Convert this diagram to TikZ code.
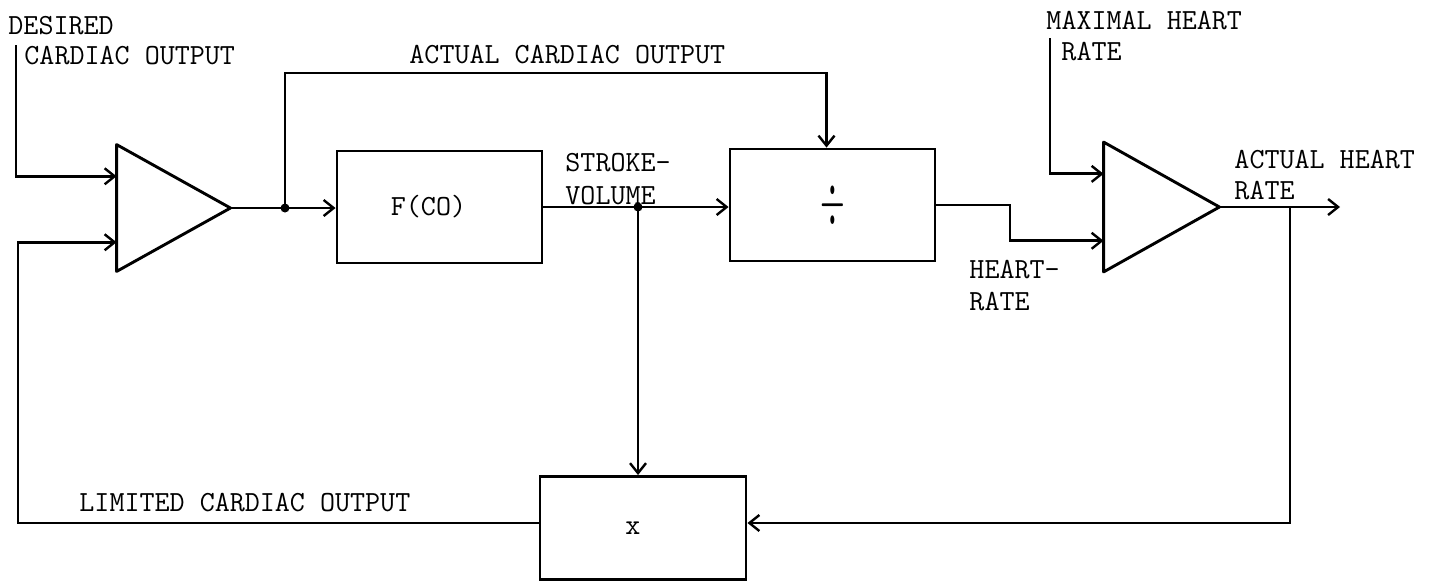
\documentclass[tikz,border=0pt]{standalone}
\usetikzlibrary{arrows.meta,calc}
\begin{document}
\begin{tikzpicture}[x=0.5pt,y=-0.5pt,
  line width=1.45pt,
  arr/.style={-{Straight Barb[length=5pt,width=8pt,line width=1.2pt]}},
  txtfont/.style={font=\fontsize{14.6}{16}\selectfont\ttfamily},
  blockbox/.style={draw,rectangle,minimum width=102.5pt,minimum height=56pt,inner sep=0pt,txtfont},
  ampbox/.style={rectangle,inner sep=0pt},
  lbl/.style={anchor=west,inner sep=0pt,txtfont},
  dot/.style={circle,fill,inner sep=0pt,minimum size=4.5pt}]
\useasboundingbox (0,0) rectangle (1433,585);

% amplifiers (bounding boxes, triangle drawn from anchors)
\node[ampbox,minimum width=55.5pt,minimum height=62pt] (amp1) at (173.5,208) {};
\draw[line join=round] (amp1.north west) -- (amp1.east) -- (amp1.south west) -- cycle;
\node[ampbox,minimum width=56.5pt,minimum height=63.5pt] (amp2) at (1161.5,207) {};
\draw[line join=round] (amp2.north west) -- (amp2.east) -- (amp2.south west) -- cycle;

% blocks
\node[blockbox] (fco) at (439.5,207) {F(CO)\hspace*{11pt}};
\node[blockbox] (div) at (832.5,205) {\raisebox{-3pt}{\scalebox{1.1}[2.4]{$\div$}}};
\node[blockbox,minimum width=103pt,minimum height=51.5pt] (mul) at (643,528) {\raisebox{-4pt}{x}\hspace*{10pt}};

% named points
\coordinate (din) at (16,45);
\coordinate (a1in1) at ($(amp1.north west)!0.25!(amp1.south west)$);
\coordinate (a1in2) at ($(amp1.north west)!0.77!(amp1.south west)$);
\coordinate (a2in1) at ($(amp2.north west)!0.245!(amp2.south west)$);
\coordinate (a2in2) at ($(amp2.north west)!0.76!(amp2.south west)$);
\coordinate (mhr) at (1050,38);
\coordinate (hrout) at (1340,207);
\node[dot] (j1) at (285,208) {};
\node[dot] (j2) at (638,207) {};
\coordinate (j3) at (1290,207);
\coordinate (top1) at (285,73);
\coordinate (divtop) at ($(div.north)+(-6,0)$);
\coordinate (mulin) at ($(mul.east)+(0,-5)$);
\coordinate (mulout) at ($(mul.west)+(0,-5)$);
\coordinate (step1) at (1010,205);
\coordinate (fb) at (18,523);

% connectors
\draw[arr] (din) |- (a1in1);
\draw[arr] (amp1.east) -- (fco.west |- amp1.east);
\draw[arr] (j1.center) -- (top1) -| (divtop);
\draw[arr] (fco.east) -- (div.west |- fco.east);
\draw[arr] (j2.center) -- (j2 |- mul.north);
\draw[arr] (div.east) -- (step1) |- (a2in2);
\draw[arr] (mhr) |- (a2in1);
\draw[arr] (amp2.east) -- (hrout);
\draw[arr] (j3) |- (mulin);
\draw[arr] (mulout) -- (fb) |- (a1in2);

% labels
\node[lbl] (l1) at (7,26) {DESIRED};
\node[lbl] (l2) at (23,56) {CARDIAC OUTPUT};
\node[lbl] (l3) at (408,55) {ACTUAL CARDIAC OUTPUT};
\node[lbl] (l4) at (564,163) {STROKE-};
\node[lbl] (l5) at (564,196) {VOLUME};
\node[lbl] (l6) at (968,270) {HEART-};
\node[lbl] (l7) at (968,302) {RATE};
\node[lbl] (l8) at (1045,21) {MAXIMAL HEART};
\node[lbl] (l9) at (1060,52) {RATE};
\node[lbl] (l10) at (1233,160) {ACTUAL HEART};
\node[lbl] (l11) at (1233,191) {RATE};
\node[lbl] (l12) at (78,503) {LIMITED CARDIAC OUTPUT};
\end{tikzpicture}
\end{document}
